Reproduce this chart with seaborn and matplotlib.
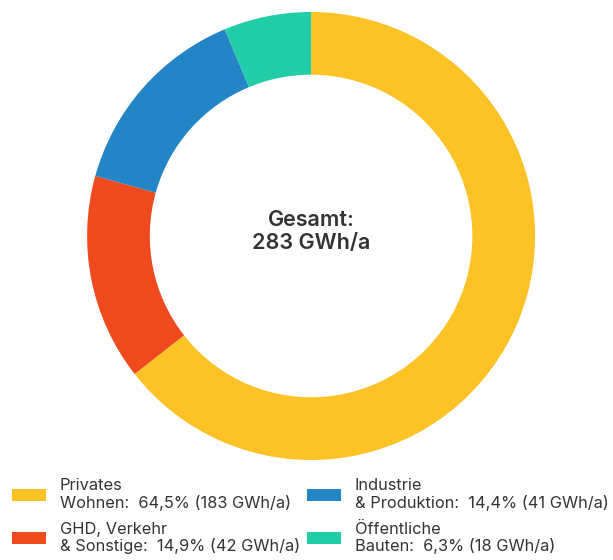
import matplotlib
matplotlib.use("Agg")
import matplotlib.pyplot as plt
import seaborn as sns
from matplotlib.patches import Patch

categories = ["Privates\nWohnen:", "GHD, Verkehr\n& Sonstige:", "Industrie\n& Produktion:", "Öffentliche\nBauten:"]
percent = [64.5, 14.9, 14.4, 6.3]
gwh = [183, 42, 41, 18]
percent_labels = ["64,5%", "14,9%", "14,4%", "6,3%"]
colors = ["#FDC226", "#EE4A1E", "#2384C6", "#20CDA8"]
total_label = "Gesamt:\n283 GWh/a"

sns.set_theme(style="white")
plt.rcParams['font.family'] = ['Inter', 'DejaVu Sans']

fig = plt.figure(figsize=(6.13, 5.6), dpi=100)
ax = fig.add_axes([0.142, 0.1786, 0.731, 0.8])
ax.pie(percent, colors=colors, startangle=90, counterclock=False,
       wedgeprops=dict(width=0.28, edgecolor="none"), radius=1.0)
ax.set_aspect("equal")
ax.set_xlim(-1, 1)
ax.set_ylim(-1, 1)
ax.axis("off")
ax.text(0, 0.02, total_label, ha="center", va="center", fontsize=15.5,
        fontweight="semibold", color="#333333", linespacing=1.15)

labels = [f"{c}  {p} ({g} GWh/a)" for c, p, g in zip(categories, percent_labels, gwh)]
handles = [Patch(facecolor=col, edgecolor="none") for col in colors]
leg = fig.legend(handles, labels, ncol=2, loc="upper left", bbox_to_anchor=(0.0196, 0.146),
                 frameon=False, fontsize=11.8, handlelength=2.07, handleheight=0.73,
                 handletextpad=0.85, columnspacing=0.4, labelspacing=0.67,
                 borderpad=0, borderaxespad=0, labelcolor="#333333")
for t in leg.get_texts():
    t.set_linespacing(1.1)

fig.savefig("out.png", dpi=100)
